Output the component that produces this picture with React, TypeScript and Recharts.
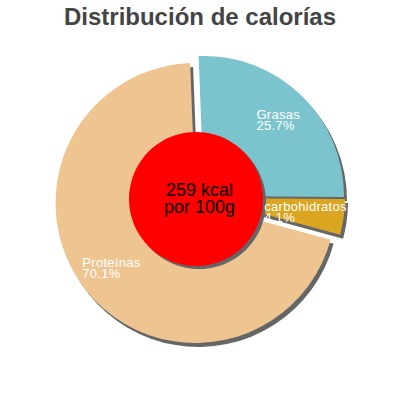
import { PieChart, Pie, Cell } from "recharts";

// chart data
const categories = ["Grasas", "carbohidratos", "Proteínas"];
const percents = [25.7, 4.1, 70.1];
const energyValue = [259];
const energyText = ["259 kcal", "por 100g"];
const title = "Distribución de calorías";

const sliceColors = ["#7cc4cd", "#daa520", "#eec591"];
const shadowColor = "#666666";
const font = "'Liberation Sans', Arial, sans-serif";

// each slice is pulled out a bit from the middle, so each gets its own center
const sliceCenters = [
  [204, 196],
  [205, 198],
  [195.5, 203],
];
const shadowOffset = [3, 4];
const outerR = 140;
const startAngle = 92.2;
const endAngle = startAngle - 360;

const data = categories.map((name, i) => ({ name, value: percents[i] }));
const energyData = energyValue.map((value) => ({ name: "kcal", value }));

const RAD = Math.PI / 180;

const sliceLabel = (idx: number) => (props: any) => {
  const name = props.name ?? props.payload?.name;
  if (name !== categories[idx]) return null;
  const { cx, cy, midAngle, value } = props;
  const r = 105;
  const x = cx + r * Math.cos(-midAngle * RAD);
  const y = cy + r * Math.sin(-midAngle * RAD) - 1.5;
  const left = x - (name.length * 6.9) / 2;
  return (
    <text fill="#fff" fontSize={13} fontFamily={font} letterSpacing={0.3}>
      <tspan x={left} y={y}>
        {name}
      </tspan>
      <tspan x={left} y={y + 11}>
        {value}%
      </tspan>
    </text>
  );
};

const energyLabel = (props: any) => {
  const { cx, cy } = props;
  return (
    <text fill="#000" fontSize={18} fontFamily={font} textAnchor="middle">
      <tspan x={cx + 3.5} y={cy - 3}>
        {energyText[0]}
      </tspan>
      <tspan x={cx + 3.5} y={cy + 14}>
        {energyText[1]}
      </tspan>
    </text>
  );
};

export default function App() {
  return (
    <div style={{ position: "absolute", left: 0, top: 0, width: 400, height: 400, background: "#fff" }}>
      <PieChart width={400} height={400} margin={{ top: 0, right: 0, bottom: 0, left: 0 }}>
        {/* shadows */}
        {categories.map((_, idx) => (
          <Pie
            key={"shadow" + idx}
            data={data}
            dataKey="value"
            cx={sliceCenters[idx][0] + shadowOffset[0]}
            cy={sliceCenters[idx][1] + shadowOffset[1]}
            outerRadius={outerR}
            startAngle={startAngle}
            endAngle={endAngle}
            stroke="none"
            isAnimationActive={false}
          >
            {data.map((d, i) => (
              <Cell key={d.name} fill={i === idx ? shadowColor : "transparent"} />
            ))}
          </Pie>
        ))}
        {/* slices */}
        {categories.map((_, idx) => (
          <Pie
            key={"slice" + idx}
            data={data}
            dataKey="value"
            cx={sliceCenters[idx][0]}
            cy={sliceCenters[idx][1]}
            outerRadius={outerR}
            startAngle={startAngle}
            endAngle={endAngle}
            stroke="none"
            label={sliceLabel(idx)}
            labelLine={false}
            isAnimationActive={false}
          >
            {data.map((d, i) => (
              <Cell key={d.name} fill={i === idx ? sliceColors[idx] : "transparent"} />
            ))}
          </Pie>
        ))}
        {/* red center */}
        <Pie
          data={energyData}
          dataKey="value"
          cx={196 + shadowOffset[0]}
          cy={199 + shadowOffset[1] - 1}
          outerRadius={67}
          stroke="none"
          fill={shadowColor}
          isAnimationActive={false}
        />
        <Pie
          data={energyData}
          dataKey="value"
          cx={196}
          cy={199}
          outerRadius={67}
          stroke="none"
          fill="#ff0000"
          label={energyLabel}
          labelLine={false}
          isAnimationActive={false}
        />
      </PieChart>
      <div
        style={{
          position: "absolute",
          left: 0,
          top: 3,
          width: 400,
          textAlign: "center",
          fontFamily: font,
          fontWeight: "bold",
          fontSize: 24,
          color: "#444",
        }}
      >
        {title}
      </div>
    </div>
  );
}
